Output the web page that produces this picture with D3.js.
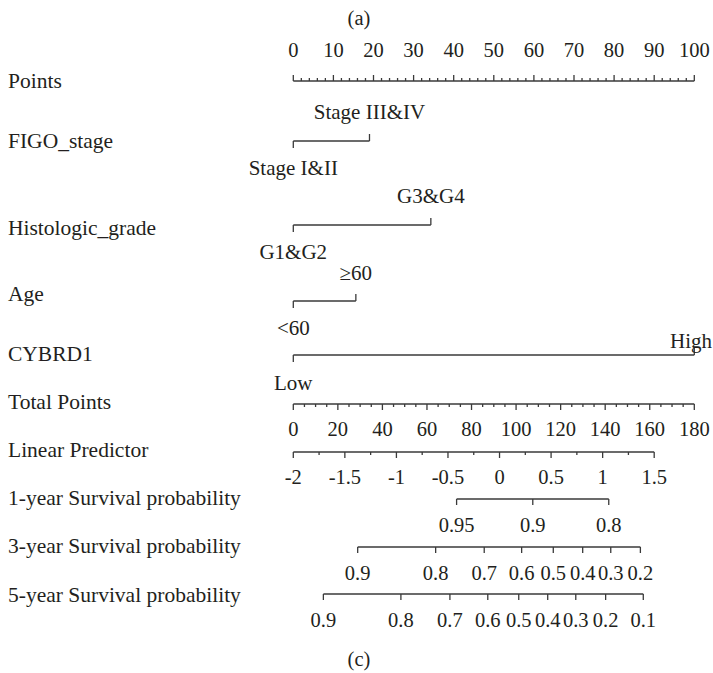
<!DOCTYPE html>
<html><head><meta charset="utf-8">
<script src="https://cdn.jsdelivr.net/npm/d3@7"></script>
<style>html,body{margin:0;padding:0;background:#fff;} svg{display:block;}</style>
</head><body>
<script>
// ---- data ----
const rowLabels = ["Points","FIGO_stage","Histologic_grade","Age","CYBRD1","Total Points","Linear Predictor","1-year Survival probability","3-year Survival probability","5-year Survival probability"];
const pointsTicks = d3.range(0, 101, 10);
const figoLevels = ["Stage I&II","Stage III&IV"];
const figoPoints = [0, 19];
const gradeLevels = ["G1&G2","G3&G4"];
const gradePoints = [0, 34.3];
const ageLevels = ["<60","≥60"];
const agePoints = [0, 15.6];
const cybrdLevels = ["Low","High"];
const cybrdPoints = [0, 100];
const totalTicks = d3.range(0, 181, 20);
const lpTicks = [-2,-1.5,-1,-0.5,0,0.5,1,1.5];
const lpTickLabels = ["-2","-1.5","-1","-0.5","0","0.5","1","1.5"];
const lpTotalAtMax = 162; // total points where LP = 1.5
const surv1Labels = ["0.95","0.9","0.8"];
const surv1Total = [73.3, 107.5, 141.6];
const surv3Labels = ["0.9","0.8","0.7","0.6","0.5","0.4","0.3","0.2"];
const surv3Total = [28.9, 63.9, 85.7, 102.5, 116.7, 129.9, 142.5, 155.8];
const surv5Labels = ["0.9","0.8","0.7","0.6","0.5","0.4","0.3","0.2","0.1"];
const surv5Total = [13.5, 48.3, 70.3, 87.3, 101.2, 114.2, 126.8, 140.2, 157.1];

// ---- layout ----
const W = 713, H = 673;
const FONT = "'Liberation Serif','Times New Roman',serif";
const FS_ROW = 21.5, FS_CAT = 21, FS_NUM = 20.5;
const TXT = "#231f20", LN = "#3a3a3a", SW = 1.3;
const labelY = [80,140,227,293,353,401,449,497,545,594];
const lineY = {points:81, figo:141, grade:225, age:301, cybrd:355, total:404, lp:452, s1:499, s3:547, s5:594};

const svg = d3.select("body").append("svg").attr("width", W).attr("height", H);
const xPts = d3.scaleLinear().domain([0,100]).range([293.3, 694.3]);
const xTot = d3.scaleLinear().domain([0,180]).range([293.3, 694.3]);
const xLP = d3.scaleLinear().domain([-2,1.5]).range([xTot(0), xTot(lpTotalAtMax)]);

function text(x, y, s, fs, anchor="middle") {
  svg.append("text").attr("x", x).attr("y", y).attr("dy","0.35em")
    .attr("text-anchor", anchor).attr("font-family", FONT).attr("font-size", fs)
    .attr("fill", TXT).text(s);
}
function line(x1,y1,x2,y2){
  svg.append("line").attr("x1",x1).attr("y1",y1).attr("x2",x2).attr("y2",y2)
    .attr("stroke",LN).attr("stroke-width",SW);
}

// panel letters
text(359, 18, "(a)", FS_NUM);
text(359, 659, "(c)", FS_NUM);

// row labels
rowLabels.forEach((l,i)=> text(8, labelY[i], l, FS_ROW, "start"));

// Points axis (ticks up, labels above)
{
  const y = lineY.points;
  line(xPts(0), y, xPts(100), y);
  d3.range(0, 101, 2).forEach(v => {
    const major = v % 10 === 0;
    line(xPts(v), y, xPts(v), y - (major ? 6 : 3));
  });
  pointsTicks.forEach(v => text(xPts(v), 50, String(v), FS_NUM));
}

// categorical rows
function catRow(levels, pts, y, upOff, downOff){
  line(xPts(pts[0]), y, xPts(pts[1]), y);
  line(xPts(pts[0]), y, xPts(pts[0]), y + 7);
  line(xPts(pts[1]), y, xPts(pts[1]), y - 7);
  // keep the upper label inside the picture
  const xr = xPts(pts[1]);
  if (xr > W - 24) text(W - 1, y + upOff, levels[1], FS_CAT, "end");
  else text(xr, y + upOff, levels[1], FS_CAT);
  text(xPts(pts[0]), y + downOff, levels[0], FS_CAT);
}
catRow(figoLevels, figoPoints, lineY.figo, -29, 27);
catRow(gradeLevels, gradePoints, lineY.grade, -29, 27);
catRow(ageLevels, agePoints, lineY.age, -28, 27);
catRow(cybrdLevels, cybrdPoints, lineY.cybrd, -14, 28);

// Total points (ticks down, labels below)
{
  const y = lineY.total;
  line(xTot(0), y, xTot(180), y);
  d3.range(0, 181, 5).forEach(v => {
    const major = v % 20 === 0;
    line(xTot(v), y, xTot(v), y + (major ? 6 : 3));
  });
  totalTicks.forEach(v => text(xTot(v), 429, String(v), FS_NUM));
}

// Linear predictor
{
  const y = lineY.lp;
  line(xLP(-2), y, xLP(1.5), y);
  d3.range(-2, 1.5001, 0.25).forEach(v => {
    const major = Math.abs(v*2 - Math.round(v*2)) < 1e-6;
    line(xLP(v), y, xLP(v), y + (major ? 6 : 3));
  });
  lpTicks.forEach((v,i) => text(xLP(v), 477, lpTickLabels[i], FS_NUM));
}

// survival rows
function survRow(labels, tot, y){
  line(xTot(tot[0]), y, xTot(tot[tot.length-1]), y);
  tot.forEach((t,i) => {
    line(xTot(t), y, xTot(t), y + 6);
    text(xTot(t), y + 26, labels[i], FS_NUM);
  });
}
survRow(surv1Labels, surv1Total, lineY.s1);
survRow(surv3Labels, surv3Total, lineY.s3);
survRow(surv5Labels, surv5Total, lineY.s5);
</script>
</body></html>
